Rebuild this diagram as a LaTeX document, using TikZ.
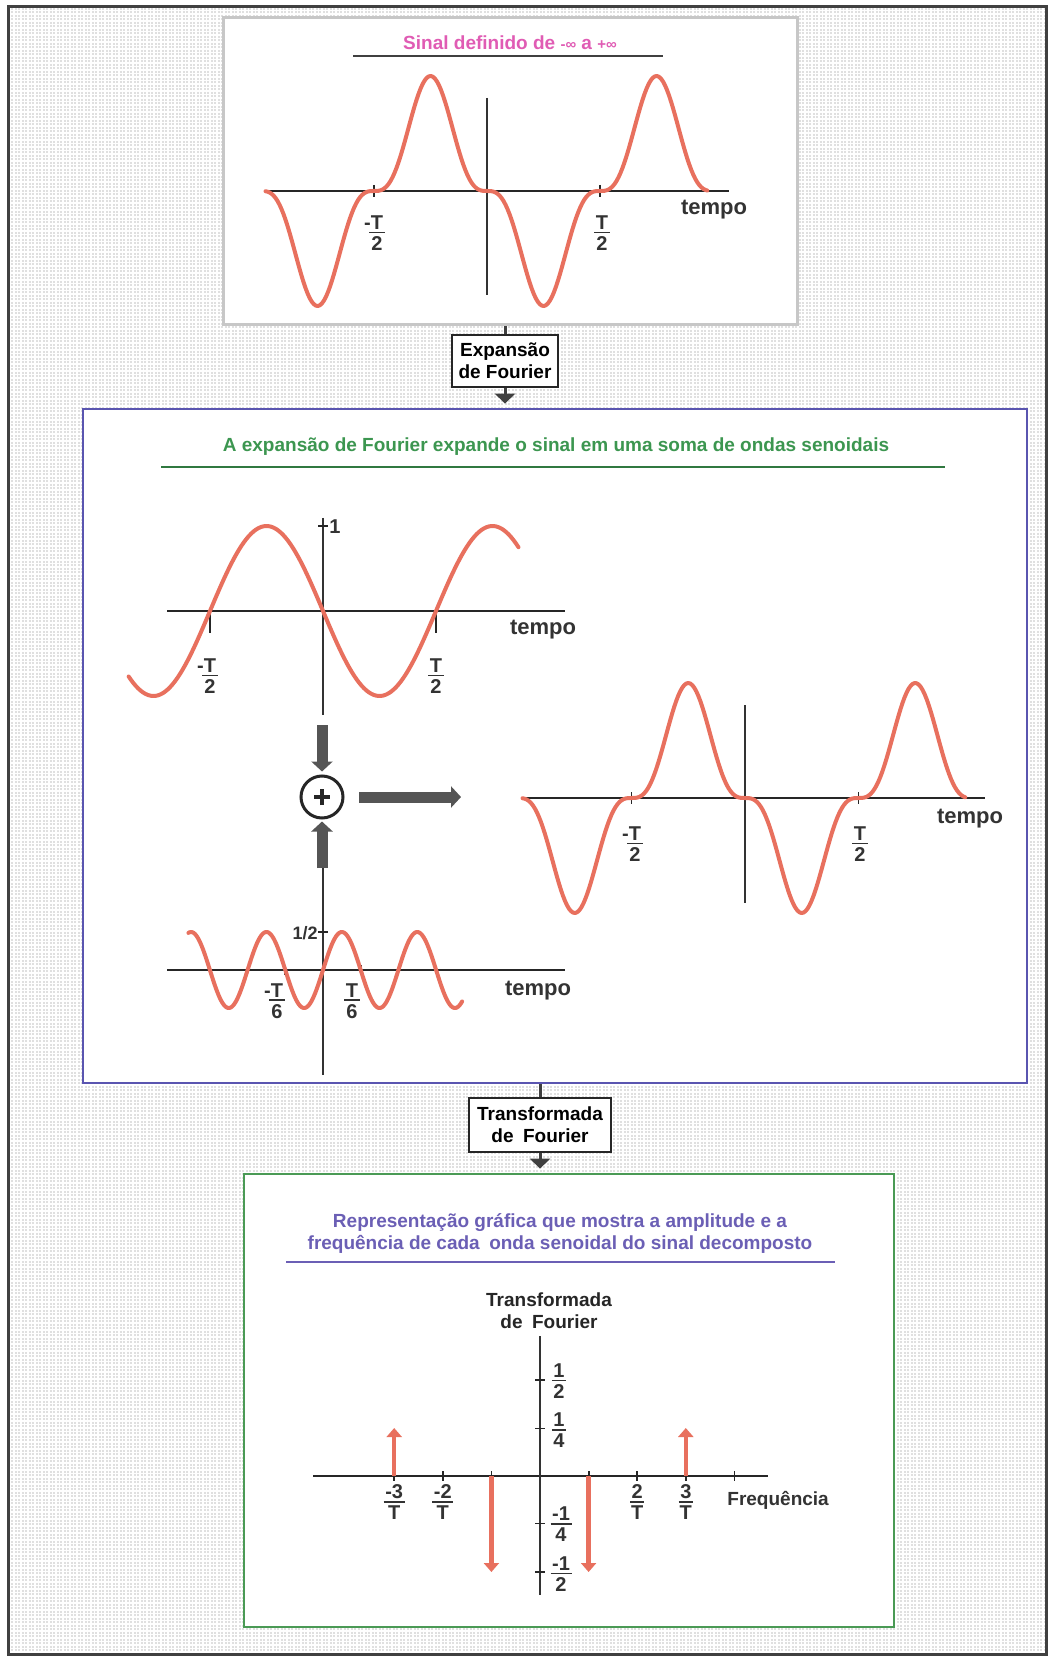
\documentclass[tikz,border=0pt]{standalone}
\usepackage{fontspec}
\usepackage{amsmath}
\setmainfont{Liberation Sans}
\usetikzlibrary{arrows.meta}
\definecolor{sigred}{HTML}{E8705E}
\definecolor{ttlpink}{HTML}{E05CB4}
\definecolor{ttlgreen}{HTML}{3C9650}
\definecolor{ttlpurple}{HTML}{6B5FB5}
\definecolor{midframe}{HTML}{5A55B0}
\definecolor{botframe}{HTML}{4A9A55}
\definecolor{bgfill}{HTML}{E0E0E0}
\definecolor{arrowgray}{HTML}{555555}
\newcommand\fr[2]{$\vcenter{\offinterlineskip\halign{\hfil##\hfil\cr\kern0.8pt#1\kern0.8pt\cr\noalign{\kern1.2pt}\leaders\hrule height 0.95pt\hfill\cr\noalign{\kern1.6pt}#2\cr}}$}
\begin{document}
\begin{tikzpicture}[x=0.5pt,y=-0.5pt,
  panel/.style={draw, fill=white, inner sep=0pt},
  sig/.style={draw=sigred, line width=2pt, line join=round, line cap=round},
  axis/.style={draw=black!85, line width=0.9pt},
  vaxis/.style={draw=black!80, line width=0.6pt},
  lbl/.style={font=\bfseries\fontsize{11}{12}\selectfont, text=black!80, inner sep=0pt},
  frl/.style={font=\bfseries\fontsize{10}{11}\selectfont, text=black!80, inner sep=0pt},
  ttl/.style={font=\bfseries\fontsize{9.5}{11}\selectfont, inner sep=0pt},
  conn/.style={draw=black!75, line width=1.5pt},
  tipd/.style={-{Triangle[length=5pt,width=10pt]}},
  fatarrow/.style={draw=arrowgray, line width=5.5pt, -{Triangle[length=5pt,width=10.5pt]}},
  ftarrow/.style={draw=sigred, line width=2.2pt, -{Triangle[length=4.5pt,width=7.5pt]}},
]
\useasboundingbox (0,0) rectangle (1049,1657);
% background texture and frame
\fill[white] (0,0) rectangle (1049,1657);
\fill[bgfill] (8,7) rectangle (1046,1654);
\begin{scope}
\clip (8,7) rectangle (1046,1654);
\draw[white, line width=0.7pt, step=1.75pt] (8,7) grid (1046,1654);
\end{scope}
\draw[black!75, line width=1.5pt] (8,7) rectangle (1046,1654);

% ---------- top panel ----------
\node[panel, draw=black!22, line width=1.5pt, minimum width=287pt, minimum height=153.5pt] (top) at (510,171.5) {};
\node[ttl, text=ttlpink] (ttop) at (510,43) {Sinal definido de {\fontsize{7.5}{9}\selectfont-∞} a {\fontsize{7.5}{9}\selectfont+∞}};
\draw[black!75, line width=0.9pt] (353,56) -- (663,56);
\draw[axis] (265,191) -- (729,191);
\draw[vaxis] (487,98) -- (487,295);
\draw[axis] (374,185) -- (374,197);
\draw[axis] (600,185) -- (600,197);
\draw[sig] plot[domain=-1.96:1.95, samples=220] ({487+113*\x},{191+115*sin(180*\x)*sin(180*\x)*sin(180*\x)});
\node[frl] (a1) at (377,233) {\fr{\llap{-}T}{2}};
\node[frl] (a2) at (602,233) {\fr{T}{2}};
\node[lbl] (a3) at (714,210) {tempo};

% connector 1
\node[panel, draw=black!85, line width=1.3pt, minimum width=53pt, minimum height=26pt, ttl, align=center] (exp) at (505,361) {Expansão\\de Fourier};
\draw[conn] (exp.north) -- (exp.north |- top.south);

% ---------- middle panel ----------
\node[panel, draw=midframe, line width=1.4pt, minimum width=472pt, minimum height=337pt] (mid) at (555,746) {};
\draw[conn, tipd, shorten >=2pt] (exp.south) -- (exp.south |- mid.north);
\node[ttl, text=ttlgreen] (tmid) at (556,447) {A expansão de Fourier expande o sinal em uma soma de ondas senoidais};
\draw[ttlgreen!80!black, line width=0.9pt] (161,467) -- (945,467);

% sine 1
\draw[axis] (167,611) -- (565,611);
\draw[vaxis] (323,518) -- (323,715);
\draw[axis] (210,611) -- (210,633);
\draw[axis] (436,611) -- (436,633);
\draw[axis] (318,526) -- (328,526);
\draw[sig] plot[domain=-1.72:1.73, samples=160] ({323+113*\x},{611+85*sin(180*\x)});
\node[frl] (b1) at (210,676) {\fr{\llap{-}T}{2}};
\node[frl] (b2) at (436,676) {\fr{T}{2}};
\node[frl, anchor=west] (b3) at (329,527) {1};
\node[lbl] (b4) at (543,630) {tempo};

% summation
\node[circle, draw=black!85, line width=1.5pt, minimum size=21pt, inner sep=0pt, fill=white] (sum) at (322,797) {};
\draw[black!85, line width=2.2pt] ([xshift=-4pt]sum.center) -- ([xshift=4pt]sum.center);
\draw[black!85, line width=2.2pt] ([yshift=-4pt]sum.center) -- ([yshift=4pt]sum.center);
\coordinate (din) at (322,725);
\coordinate (uin) at (322,868);
\coordinate (rs) at (359,797);
\coordinate (re) at (461,797);
\draw[fatarrow, shorten >=1.5pt] (din) -- (sum.north);
\draw[fatarrow, shorten >=1pt] (uin) -- (sum.south);
\draw[fatarrow] (rs) -- (re);

% sine 2
\draw[axis] (167,970) -- (565,970);
\draw[vaxis] (323,868) -- (323,1075);
\draw[axis] (285.3,965) -- (285.3,975);
\draw[axis] (360.7,965) -- (360.7,975);
\draw[axis] (318,932) -- (328,932);
\draw[sig] plot[domain=-3.57:3.69, samples=260] ({323+37.7*\x},{970-38*sin(180*\x)});
\node[frl, anchor=east] (c1) at (318,933) {\fontsize{9}{10}\selectfont 1/2};
\node[frl] (c2) at (277,1001) {\fr{\llap{-}T}{6}};
\node[frl] (c3) at (352,1001) {\fr{T}{6}};
\node[lbl] (c4) at (538,991) {tempo};

% combined signal
\draw[axis] (522,798) -- (985,798);
\draw[vaxis] (745,705) -- (745,903);
\draw[axis] (631.5,792) -- (631.5,804);
\draw[axis] (858.5,792) -- (858.5,804);
\draw[sig] plot[domain=-1.96:1.94, samples=220] ({745+113.5*\x},{798+115*sin(180*\x)*sin(180*\x)*sin(180*\x)});
\node[frl] (d1) at (635,844) {\fr{\llap{-}T}{2}};
\node[frl] (d2) at (860,844) {\fr{T}{2}};
\node[lbl] (d3) at (970,819) {tempo};

% connector 2
\node[panel, draw=black!85, line width=1.3pt, minimum width=71pt, minimum height=27pt, ttl, align=center] (ftb) at (540,1125) {Transformada\\de\enspace Fourier};
\draw[conn] (ftb.north) -- (ftb.north |- mid.south);

% ---------- bottom panel ----------
\node[panel, draw=botframe, line width=1.4pt, minimum width=325pt, minimum height=226.5pt] (bot) at (569,1400.5) {};
\draw[conn, tipd, shorten >=2pt] (ftb.south) -- (ftb.south |- bot.north);
\node[ttl, text=ttlpurple, align=center] (tbot) at (560,1233) {Representação gráfica que mostra a amplitude e a\\frequência de cada\enspace onda senoidal do sinal decomposto};
\draw[ttlpurple, line width=0.9pt] (286,1262) -- (835,1262);
\node[ttl, text=black!85, align=center] (ftl) at (549,1311) {Transformada\\de\enspace Fourier};

% FT axes
\draw[axis] (313,1476) -- (768,1476);
\draw[vaxis] (540,1336) -- (540,1595);
\foreach \k in {-3,-2,-1,1,2,3,4} {
  \draw[axis] ({540+48.6*\k},1471) -- ({540+48.6*\k},1481);
}
\foreach \v in {-96,-47.5,47.5,96} {
  \draw[axis] (535,{1476+\v}) -- (545,{1476+\v});
}
\draw[ftarrow] ({540-3*48.6},1476) -- ({540-3*48.6},1428);
\draw[ftarrow] ({540+3*48.6},1476) -- ({540+3*48.6},1428);
\draw[ftarrow] ({540-48.6},1476) -- ({540-48.6},1572);
\draw[ftarrow] ({540+48.6},1476) -- ({540+48.6},1572);
\node[frl] (e1) at ({540-3*48.6},1502) {\fr{-3}{T}};
\node[frl] (e2) at ({540-2*48.6},1502) {\fr{-2}{T}};
\node[frl] (e3) at ({540+2*48.6},1502) {\fr{2}{T}};
\node[frl] (e4) at ({540+3*48.6},1502) {\fr{3}{T}};
\node[frl, anchor=west] (e5) at (727,1500) {\fontsize{9.5}{11}\selectfont Frequência};
\node[frl] (f1) at (559,1381) {\fr{1}{2}};
\node[frl] (f2) at (559,1430) {\fr{1}{4}};
\node[frl] (f3) at (561,1524) {\fr{-1}{4}};
\node[frl] (f4) at (561,1574) {\fr{-1}{2}};
\end{tikzpicture}
\end{document}
